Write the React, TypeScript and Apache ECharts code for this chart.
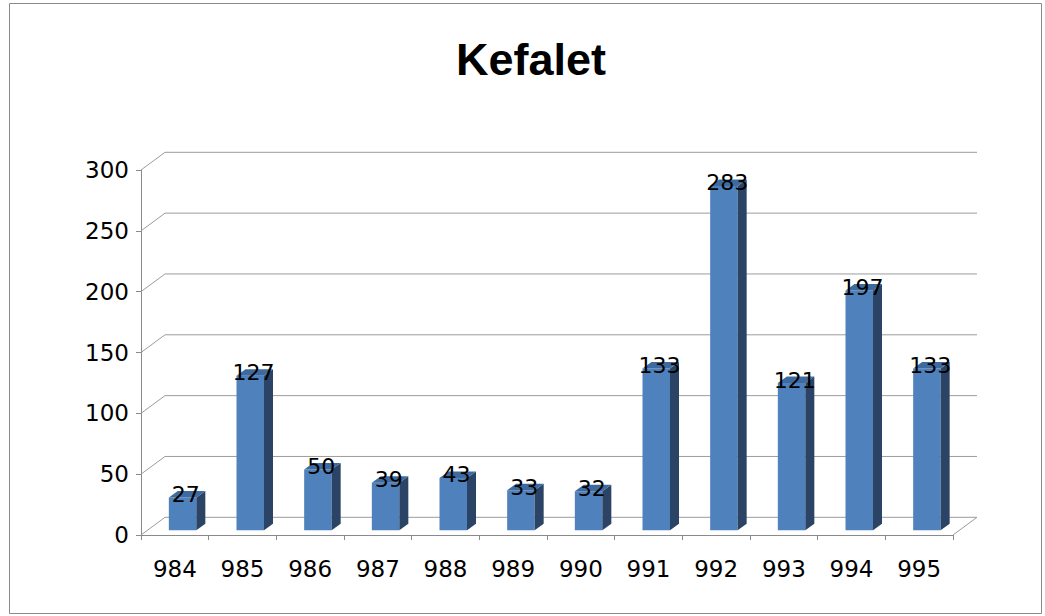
import React, { useEffect, useRef } from "react";
import * as echarts from "echarts";

const categories = ["984", "985", "986", "987", "988", "989", "990", "991", "992", "993", "994", "995"];
const values = [27, 127, 50, 39, 43, 33, 32, 133, 283, 121, 197, 133];
const yTicks = [0, 50, 100, 150, 200, 250, 300];
const titleText = "Kefalet";

const WALL_DX = 24;
const WALL_DY = 17.7;
const BAR_LEFT = -6;
const BAR_W = 27.5;
const BAR_LIFT = 4.7;
const BAR_DX = 9;
const BAR_DY = 6.5;
const FONT = "DejaVu Sans";

export default function App() {
  const ref = useRef<HTMLDivElement>(null);
  useEffect(() => {
    if (!ref.current) return;
    const chart = echarts.init(ref.current, null, { renderer: "svg" });
    chart.setOption({
      animation: false,
      backgroundColor: "#ffffff",
      title: {
        text: titleText,
        left: 526,
        top: 32,
        textAlign: "center",
        textStyle: { fontFamily: "Liberation Sans", fontWeight: "bold", fontSize: 45, color: "#000" },
      },
      graphic: [
        {
          type: "rect",
          shape: { x: 9.5, y: 3.5, width: 1032, height: 610 },
          style: { fill: "none", stroke: "#8a8a8a", lineWidth: 1 },
          z: -10,
        },
      ],
      grid: { left: 141, right: 92, top: 170, bottom: 81 },
      xAxis: {
        type: "category",
        data: categories,
        boundaryGap: true,
        axisLine: { show: true, lineStyle: { color: "#8a8a8a", width: 1 } },
        axisTick: { show: true, length: 5, lineStyle: { color: "#8a8a8a" } },
        axisLabel: { color: "#000", fontFamily: FONT, fontSize: 23, margin: 22 },
        splitLine: { show: false },
      },
      yAxis: {
        type: "value",
        min: 0,
        max: 300,
        interval: 50,
        axisLine: { show: true, lineStyle: { color: "#8a8a8a", width: 1 } },
        axisTick: { show: true, length: 5, lineStyle: { color: "#8a8a8a" } },
        axisLabel: { color: "#000", fontFamily: FONT, fontSize: 23, margin: 12 },
        splitLine: { show: false },
      },
      series: [
        {
          type: "custom",
          z: 1,
          silent: true,
          data: yTicks.map((v) => [0, v]),
          encode: { x: 0, y: 1 },
          renderItem: (params: any, api: any) => {
            const cs = params.coordSys;
            const v = api.value(1);
            const y = api.coord([0, v])[1];
            const children: any[] = [
              {
                type: "polyline",
                shape: {
                  points: [
                    [cs.x, y],
                    [cs.x + WALL_DX, y - WALL_DY],
                    [cs.x + cs.width + WALL_DX, y - WALL_DY],
                  ],
                },
                style: { stroke: "#9c9c9c", lineWidth: 1, fill: "none" },
              },
            ];
            if (v === 0) {
              children.push({
                type: "line",
                shape: { x1: cs.x + cs.width, y1: y, x2: cs.x + cs.width + WALL_DX, y2: y - WALL_DY },
                style: { stroke: "#9c9c9c", lineWidth: 1 },
              });
            }
            return { type: "group", children };
          },
        },
        {
          type: "custom",
          z: 5,
          data: values.map((v, i) => [i, v]),
          encode: { x: 0, y: 1 },
          renderItem: (params: any, api: any) => {
            const idx = api.value(0);
            const v = api.value(1);
            const b = api.coord([idx, 0]);
            const t = api.coord([idx, v]);
            const h = b[1] - t[1];
            const x0 = b[0] + BAR_LEFT;
            const x1 = x0 + BAR_W;
            const yb = b[1] - BAR_LIFT;
            const yt = yb - h;
            return {
              type: "group",
              children: [
                {
                  type: "rect",
                  shape: { x: x0, y: yt, width: BAR_W, height: h },
                  style: { fill: "#4f81bd" },
                },
                {
                  type: "polygon",
                  shape: {
                    points: [
                      [x1, yt],
                      [x1 + BAR_DX, yt - BAR_DY],
                      [x1 + BAR_DX, yb - BAR_DY],
                      [x1, yb],
                    ],
                  },
                  style: { fill: "#2b4466" },
                },
                {
                  type: "polygon",
                  shape: {
                    points: [
                      [x0, yt],
                      [x0 + BAR_DX, yt - BAR_DY],
                      [x1 + BAR_DX, yt - BAR_DY],
                      [x1, yt],
                    ],
                  },
                  style: { fill: "#3f6a9f" },
                },
                {
                  type: "text",
                  x: b[0] + 11,
                  y: yt - 3,
                  style: {
                    text: String(v),
                    fontFamily: FONT,
                    fontSize: 22,
                    fill: "#000",
                    align: "center",
                    verticalAlign: "middle",
                  },
                },
              ],
            };
          },
        },
      ],
    });
    return () => chart.dispose();
  }, []);
  return <div ref={ref} style={{ position: "absolute", left: 0, top: 0, width: 1045, height: 616 }} />;
}
